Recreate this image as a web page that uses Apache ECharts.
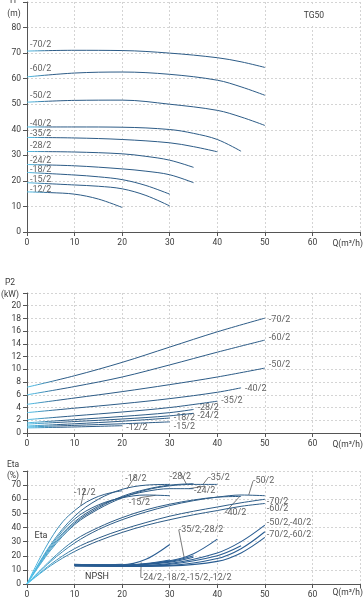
<!DOCTYPE html>
<html><head><meta charset="utf-8">
<script src="https://cdn.jsdelivr.net/npm/echarts@6/dist/echarts.min.js"></script>
<style>html,body{margin:0;padding:0;background:#fff}#c{width:363px;height:600px}</style>
</head><body><div id="c"></div>
<script>
// ---------- DATA ----------
const models = ['-70/2','-60/2','-50/2','-40/2','-35/2','-28/2','-24/2','-18/2','-15/2','-12/2'];
const xTicks = [0,10,20,30,40,50,60];

// Head H (m) vs Q (m3/h)
const headCurves = [
  [[0,70.8],[10,71.1],[20,71],[30,70],[40,68.2],[45,66.6],[50,64.4]],
  [[0,60.7],[10,62.2],[20,62.6],[30,61.7],[40,59.4],[45,56.8],[50,53.5]],
  [[0,50.8],[10,51.5],[20,51.6],[30,50],[40,47.6],[45,45],[50,41.7]],
  [[0,41.1],[10,41.1],[20,41],[30,40.1],[35,38.6],[40,36.2],[45,31.6]],
  [[0,37],[10,36.8],[20,36.2],[30,34.9],[35,33.4],[40,31.4]],
  [[0,31.5],[10,31.3],[20,30.6],[25,29.6],[30,28.1],[35,25.3]],
  [[0,26.4],[10,25.9],[20,24.7],[25,23.8],[30,22.4],[35,19.3]],
  [[0,23.3],[10,22.3],[15,21.6],[20,20.5],[25,18.2],[30,14.8]],
  [[0,19.3],[10,18.4],[15,17.9],[20,16.9],[25,14.3],[30,10.2]],
  [[0,15.7],[5,15.4],[10,14.8],[15,12.9],[20,9.6]]
];
// Power P2 (kW)
const powerCurves = [
  [[0,7.2],[10,9.0],[20,11.1],[30,13.5],[40,15.9],[50,18.05]],
  [[0,6.0],[10,7.3],[20,8.8],[30,10.7],[40,12.7],[50,14.6]],
  [[0,4.5],[10,5.5],[20,6.5],[30,7.6],[40,8.8],[50,10.2]],
  [[0,3.2],[10,3.9],[20,4.6],[30,5.4],[40,6.4],[45,7.1]],
  [[0,2.1],[10,2.7],[20,3.3],[30,4.0],[40,5.0]],
  [[0,1.6],[10,2.1],[20,2.6],[30,3.2],[35,3.7]],
  [[0,1.4],[10,1.8],[20,2.2],[30,2.7],[35,3.1]],
  [[0,1.1],[10,1.45],[20,1.85],[30,2.35]],
  [[0,0.95],[10,1.2],[20,1.45],[30,1.75]],
  [[0,0.8],[10,0.95],[20,1.15]]
];
// Efficiency Eta (%)
const etaCurves = [
  [[0,0],[5,14],[10,25],[15,32.5],[20,38.5],[25,43.5],[30,48],[35,51.5],[40,54.5],[45,57.5],[50,60]],
  [[0,0],[5,13],[10,23],[15,30.5],[20,36.5],[25,41.5],[30,45.5],[35,49],[40,52],[45,55],[50,57]],
  [[0,0],[5,16],[10,29],[15,38.5],[20,45.5],[25,51],[30,55.5],[35,59],[40,61.5],[45,63],[50,62.5]],
  [[0,0],[5,17],[10,31],[15,40],[20,47],[25,52.5],[30,56.5],[35,59.5],[40,61.5],[45,62]],
  [[0,0],[5,24],[10,42],[15,53],[20,61],[25,66.5],[30,69.5],[35,70.5],[40,70.5]],
  [[0,0],[5,25],[10,43],[15,54],[20,62],[25,67],[30,70],[35,71]],
  [[0,0],[5,26],[10,44],[15,55],[20,61.5],[25,65.5],[30,67.5],[35,67.5]],
  [[0,0],[5,28],[10,48],[15,60],[20,67],[25,70],[30,70.5]],
  [[0,0],[5,27],[10,46],[15,56],[20,61],[25,63],[30,62.5]],
  [[0,0],[2.5,17],[5,32],[7.5,44],[10,52],[12.5,58],[15,62],[17.5,64.5],[20,66]]
];
// NPSH (m)
const npshCurves = [
  [[10,12.9],[20,12.6],[30,13.2],[40,18],[45,25],[50,37]],
  [[10,12.8],[20,12.5],[30,12.8],[40,16],[45,22],[50,33]],
  [[10,13.1],[20,12.8],[30,14.5],[40,22],[45,30],[50,41.7]],
  [[10,13],[20,12.7],[30,14],[40,20],[45,27]],
  [[10,13.3],[20,13],[30,16.5],[35,21.5],[40,31.8]],
  [[10,13.4],[20,13.2],[30,15.5],[35,19]],
  [[10,13.6],[20,13.3],[30,16],[35,20]],
  [[10,13.8],[20,13.6],[25,17.5],[30,28]],
  [[10,13.7],[20,13.3],[25,14.5],[30,17]],
  [[10,13.9],[15,13.6],[20,14]]
];
// Lower chart annotations with leader lines: [Q, value, text]
const etaLeaderLabels = [
  [11.3,55.5,'-12/2'],[21,67.2,'-18/2'],[33.5,70.8,'-28/2'],[37,70.5,'-35/2'],
  [34,67.5,'-24/2'],[27,62.8,'-15/2'],[46.6,62.9,'-50/2'],[44.7,61.9,'-40/2'],
  [33,19.3,'-35/2,-28/2'],[24,15.3,'-24/2,-18/2,-15/2,-12/2']
];
// Lower chart end labels: [Q, value, text]
const etaEndLabels = [
  [50,60,'-70/2'],[50,57,'-60/2'],[50,41.7,'-50/2,-40/2'],[50,37,'-70/2,-60/2']
];

// ---------- STYLE ----------
const lineDark = '#2c5b86';
const txt = '#3a3a3a';
const font = 'Roboto';
const leaderOffsets = [[4,-13],[9,-10],[-6,-7],[16,-7],[16,2],[-16,7],[15,-14],[-4,16],[17,-27],[45,15]];
const endOffsets = [[0,2],[0,5],[0,-2],[0,3]];
const headLabelDy = [-6.7,-7.7,-6.3,-3.4,-4,-5.3,-3.6,-2.3,-3.4,-2.4];
const powerLabelOff = [[0,1.5],[0,-2.5],[0,-3.5],[0,1],[0,0],[0,-1.5],[0,2.3],[0,0],[0,5],[0,2]];

function grad(x0, x1) {
  return {type:'linear', x:x0, y:0, x2:x1, y2:0, global:true,
    colorStops:[{offset:0,color:'#55c8f0'},{offset:1,color:lineDark}]};
}

const grids = [
  {left:27, top:2, width:335, height:230},
  {left:27, top:293, width:335, height:140},
  {left:27, top:471, width:335, height:113}
];
const yDefs = [{max:90, interval:10}, {max:22, interval:2}, {max:80, interval:10}];

const xAxes = grids.map((g,i)=>({
  gridIndex:i, type:'value', min:0, max:70, interval:10,
  axisLine:{lineStyle:{color:'#555'}},
  axisTick:{length:4, lineStyle:{color:'#555'}},
  axisLabel:{fontSize:8.5, color:txt, fontFamily:font, margin:6,
    formatter:v=> xTicks.indexOf(v)>=0 ? String(v) : ''},
  splitLine:{show:true, lineStyle:{color:'#d4d4d4', type:[2,2], width:1}}
}));
const yAxes = yDefs.map((d,i)=>({
  gridIndex:i, type:'value', min:0, max:d.max, interval:d.interval,
  axisLine:{show:true, lineStyle:{color:'#555'}},
  axisTick:{show:true, length:4, lineStyle:{color:'#555'}},
  axisLabel:{fontSize:8.5, color:txt, fontFamily:font, margin:6,
    formatter:v=> v===d.max ? '' : String(v)},
  splitLine:{show:true, lineStyle:{color:'#d4d4d4', type:[2,2], width:1}}
}));

const SM = 0.35;
const series = [];
headCurves.forEach((c,i)=>series.push({type:'line', xAxisIndex:0, yAxisIndex:0, data:c,
  smooth:SM, showSymbol:false, silent:true,
  lineStyle:{width:1, color:grad(27,50)}}));
powerCurves.forEach((c,i)=>series.push({type:'line', xAxisIndex:1, yAxisIndex:1, data:c,
  smooth:SM, showSymbol:false, silent:true,
  lineStyle:{width:1, color:grad(27,60)}}));
etaCurves.forEach((c,i)=>series.push({type:'line', xAxisIndex:2, yAxisIndex:2, data:c,
  smooth:SM, showSymbol:false, silent:true,
  lineStyle:{width:1, color:grad(27,85)}}));
npshCurves.forEach((c,i)=>series.push({type:'line', xAxisIndex:2, yAxisIndex:2, data:c,
  smooth:SM, showSymbol:false, silent:true,
  lineStyle:{width:1.1, color:'#2a5d92'}}));

// head labels at curve starts
series.push({type:'scatter', xAxisIndex:0, yAxisIndex:0, symbolSize:0, silent:true,
  data: headCurves.map((c,i)=>({value:[c[0][0],c[0][1]], name:models[i],
    label:{offset:[0,headLabelDy[i]]}})),
  label:{show:true, position:'right', distance:3, formatter:p=>p.name,
    fontSize:9, color:txt, fontFamily:font}});
// power labels at curve ends
series.push({type:'scatter', xAxisIndex:1, yAxisIndex:1, symbolSize:0, silent:true,
  data: powerCurves.map((c,i)=>({value:c[c.length-1], name:models[i],
    label:{offset:powerLabelOff[i]}})),
  label:{show:true, position:'right', distance:4, formatter:p=>p.name,
    fontSize:9, color:txt, fontFamily:font}});
// eta leader labels
series.push({type:'scatter', xAxisIndex:2, yAxisIndex:2, symbolSize:0, silent:true,
  data: etaLeaderLabels.map(d=>({value:[d[0],d[1]], name:d[2]})),
  label:{show:true, position:'inside', formatter:p=>p.name,
    fontSize:9, color:txt, fontFamily:font},
  labelLine:{show:true, lineStyle:{color:'#444', width:0.7}},
  labelLayout:p=>({dx:leaderOffsets[p.dataIndex][0], dy:leaderOffsets[p.dataIndex][1]})});
// eta end labels
series.push({type:'scatter', xAxisIndex:2, yAxisIndex:2, symbolSize:0, silent:true,
  data: etaEndLabels.map((d,i)=>({value:[d[0],d[1]], name:d[2], label:{offset:endOffsets[i]}})),
  label:{show:true, position:'right', distance:2, formatter:p=>p.name,
    fontSize:9, color:txt, fontFamily:font}});

const T = (x,y,t,size)=>({type:'text', x, y, z:100,
  style:{text:t, fill:txt, font:(size||8.5)+'px '+font, textAlign:'center', textVerticalAlign:'middle'}});
const Q = y=>({type:'text', x:363, y, z:100, style:{text:'Q(m³/h)', fill:txt, font:'8.5px '+font, textAlign:'right', textVerticalAlign:'middle'}});

const graphic = [
  {type:'rect', shape:{x:311, y:4, width:6, height:22}, style:{fill:'#fff'}, z:50},
  T(314,16,'TG50'),
  T(13,1,'H'), T(14,14,'(m)'),
  T(10,283,'P2'), T(10,295,'(kW)'),
  T(13,465,'Eta'), T(13,476,'(%)'),
  T(41,536,'Eta',9), T(97,577,'NPSH',9),
  Q(244), Q(445), Q(593)
];

const chart = echarts.init(document.getElementById('c'), null, {renderer:'canvas'});
chart.setOption({
  animation:false, backgroundColor:'#fff',
  grid:grids, xAxis:xAxes, yAxis:yAxes, series, graphic
});
</script></body></html>
